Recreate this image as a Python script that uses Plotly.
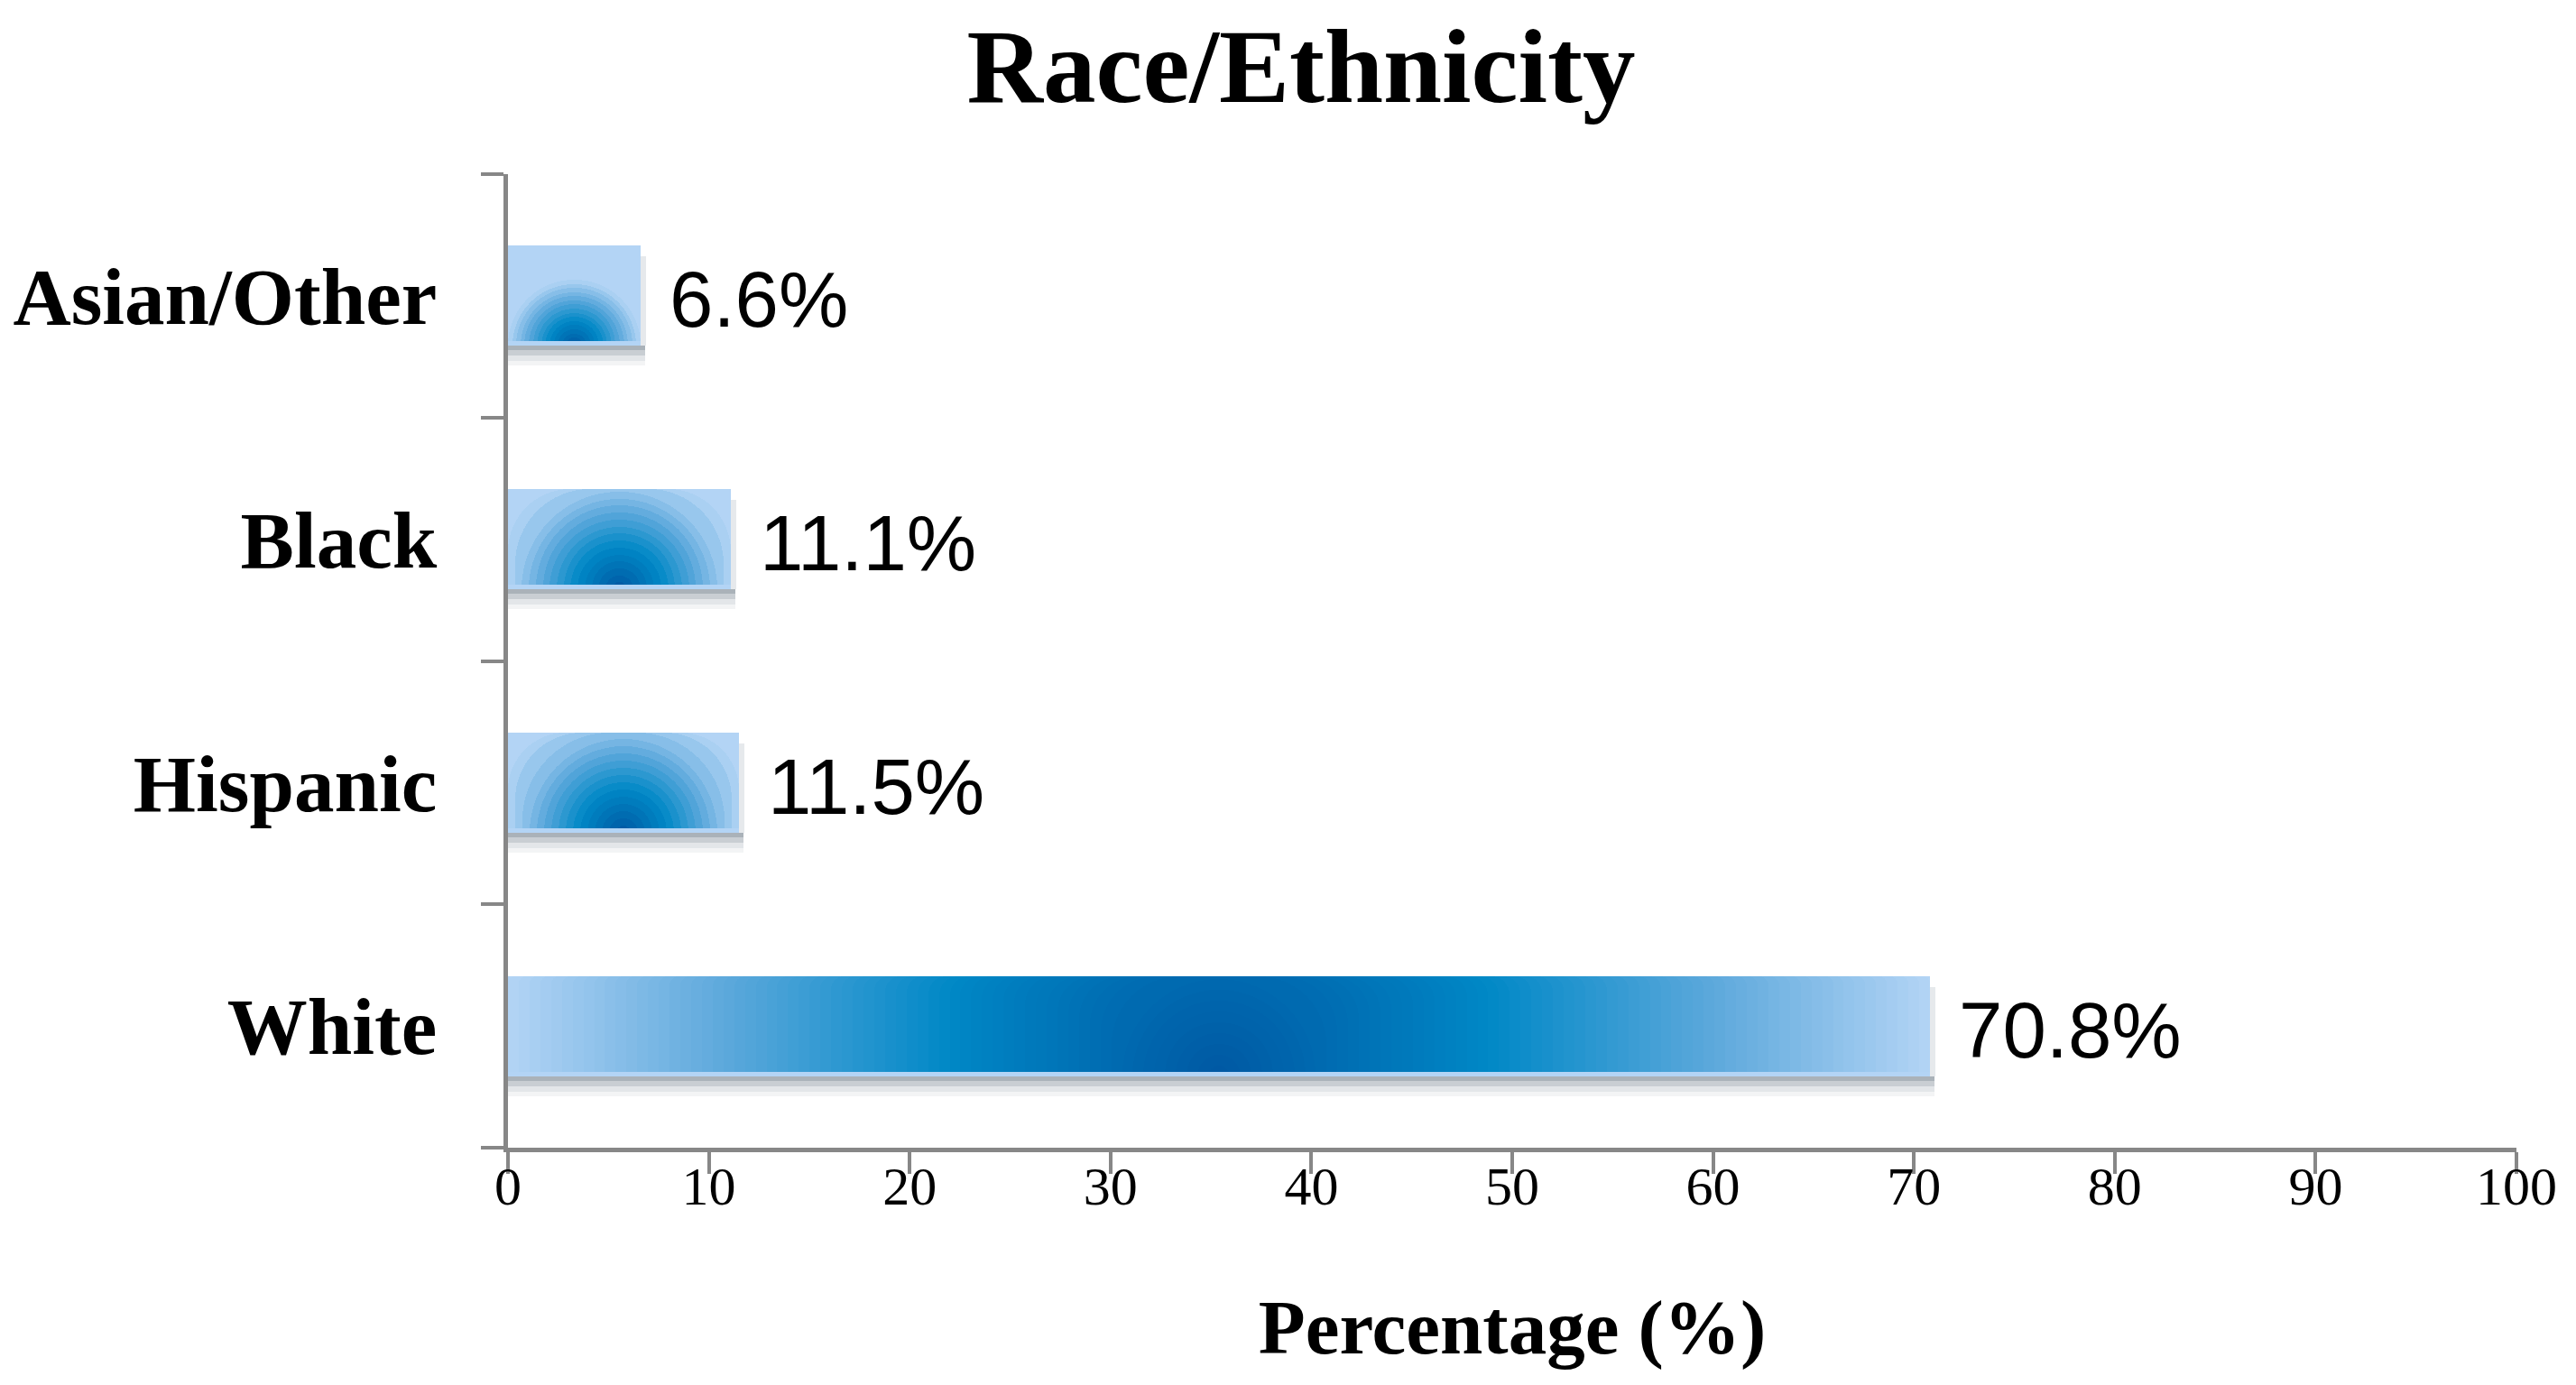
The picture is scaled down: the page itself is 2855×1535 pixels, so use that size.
import math
import plotly.graph_objects as go

# ---------------- data ----------------
categories = ["White", "Hispanic", "Black", "Asian/Other"]
values = [70.8, 11.5, 11.1, 6.6]
value_labels = ["70.8%", "11.5%", "11.1%", "6.6%"]
x_tick_vals = [0, 10, 20, 30, 40, 50, 60, 70, 80, 90, 100]
x_tick_text = ["0", "10", "20", "30", "40", "50", "60", "70", "80", "90", "100"]
title_text = "Race/Ethnicity"
x_title_text = "Percentage (%)"

# ---------------- layout constants ----------------
FIG_W, FIG_H = 2847, 1527          # page has an 8px body margin
ML, MR, MT, MB = 555, 66, 185, 263
PW = FIG_W - ML - MR
PH = FIG_H - MT - MB
X_MAX = 100
PX_PER_X = PW / X_MAX
PX_PER_CAT = PH / len(categories)
BAR_PX = 111
BAR_W = BAR_PX / PX_PER_CAT
AX = "#878787"
LIGHT = "rgb(179,212,245)"
SERIF = "Liberation Serif"
SANS = "Liberation Sans"


def cat_units(p):
    return p / PX_PER_CAT


def x_units(p):
    return p / PX_PER_X


STOPS = [(0.0, (0, 88, 163)), (0.38, (0, 136, 198)), (0.7, (94, 169, 220)), (1.0, (179, 212, 245))]


def grad(r):
    r = max(0.0, min(1.0, r))
    for (r0, c0), (r1, c1) in zip(STOPS[:-1], STOPS[1:]):
        if r0 <= r <= r1:
            f = (r - r0) / (r1 - r0)
            return "rgb(%d,%d,%d)" % tuple(round(a + (b - a) * f) for a, b in zip(c0, c1))
    return LIGHT


fig = go.Figure()
common = dict(orientation="h", hoverinfo="skip", showlegend=False)

# base light bar
fig.add_trace(go.Bar(y=categories, x=values, width=BAR_W,
                     marker=dict(color=LIGHT, line=dict(width=0)), **common))

# radial gradient rings centred at the bottom-centre of each bar
for cat, v in zip(categories, values):
    R_px = v * PX_PER_X / 2
    c = v / 2
    n = max(16, int(round(R_px / 12)))
    for k in range(n, 0, -1):
        r_px = R_px * k / n
        col = grad((k - 0.5) / n)
        half = min(r_px, BAR_PX)
        t = cat_units(2 * half)
        off = -BAR_W / 2 - t / 2
        if r_px <= BAR_PX:
            rad = r_px
        else:
            rad = r_px - math.sqrt(r_px ** 2 - BAR_PX ** 2)
        fig.add_trace(go.Bar(y=[cat], x=[2 * x_units(r_px)], base=[c - x_units(r_px)],
                             width=[t], offset=[off],
                             marker=dict(color=col, line=dict(width=0),
                                         cornerradius=max(int(round(rad)), 0)),
                             **common))

# white mask below bars (hides the lower halves of the rings)
mask_w = [cat_units(min(v * PX_PER_X / 2, BAR_PX) + 2) for v in values]
fig.add_trace(go.Bar(y=categories, x=[v + x_units(3) for v in values], width=mask_w,
                     offset=[-BAR_W / 2 - m for m in mask_w],
                     marker=dict(color="white", line=dict(width=0)), **common))

# bottom highlight strip inside bar
fig.add_trace(go.Bar(y=categories, x=values, width=cat_units(5), offset=-BAR_W / 2,
                     marker=dict(color=LIGHT, line=dict(width=0)), **common))

# drop shadow strips below bars
shadow_specs = [(0, 5, "#aab2b9"), (5, 6, "#c9ced3"), (11, 6, "#e3e6e9"), (17, 5, "#f3f4f5")]
for start, h, col in shadow_specs:
    fig.add_trace(go.Bar(y=categories, x=[v + x_units(5) for v in values], width=cat_units(h),
                         offset=-BAR_W / 2 - cat_units(start + h),
                         marker=dict(color=col, line=dict(width=0)), **common))
# right-side shadow
fig.add_trace(go.Bar(y=categories, x=[x_units(6)] * len(values), base=values,
                     width=cat_units(BAR_PX - 12), offset=-BAR_W / 2,
                     marker=dict(color="#e6e9ec", line=dict(width=0)), **common))

# value labels
for cat, v, lab in zip(categories, values, value_labels):
    fig.add_annotation(x=v, y=cat, text=lab, showarrow=False, xanchor="left", yanchor="middle",
                       xshift=30, yshift=-4, font=dict(family=SANS, size=87, color="black"))

fig.update_layout(
    width=FIG_W, height=FIG_H,
    margin=dict(l=ML, r=MR, t=MT, b=MB, autoexpand=False),
    barmode="overlay", bargap=0,
    plot_bgcolor="white", paper_bgcolor="white", showlegend=False,
    title=dict(text=title_text, x=0.5037, xanchor="center", xref="container",
               y=1 - 64 / FIG_H, yref="container", yanchor="middle",
               font=dict(family=SERIF, size=117, color="black", weight="bold")),
    xaxis=dict(range=[0, X_MAX], tickmode="array", tickvals=x_tick_vals, ticktext=x_tick_text,
               ticks="outside", ticklen=24, tickwidth=4, tickcolor=AX,
               showline=True, linecolor=AX, linewidth=5, showgrid=False, zeroline=False,
               tickfont=dict(family=SERIF, size=60, color="black"),
               ticklabelstandoff=-38,
               title=dict(text=x_title_text, standoff=95,
                          font=dict(family=SERIF, size=85, color="black", weight="bold")),
               fixedrange=True),
    yaxis=dict(type="category", categoryorder="array", categoryarray=categories,
               range=[-0.5, len(categories) - 0.5], tickson="boundaries",
               ticks="outside", ticklen=25, tickwidth=4, tickcolor=AX,
               showline=True, linecolor=AX, linewidth=5, showgrid=False, zeroline=False,
               tickfont=dict(family=SERIF, size=89, color="black", weight="bold"),
               ticklabelstandoff=56, fixedrange=True),
)

fig.write_html("out.html")
